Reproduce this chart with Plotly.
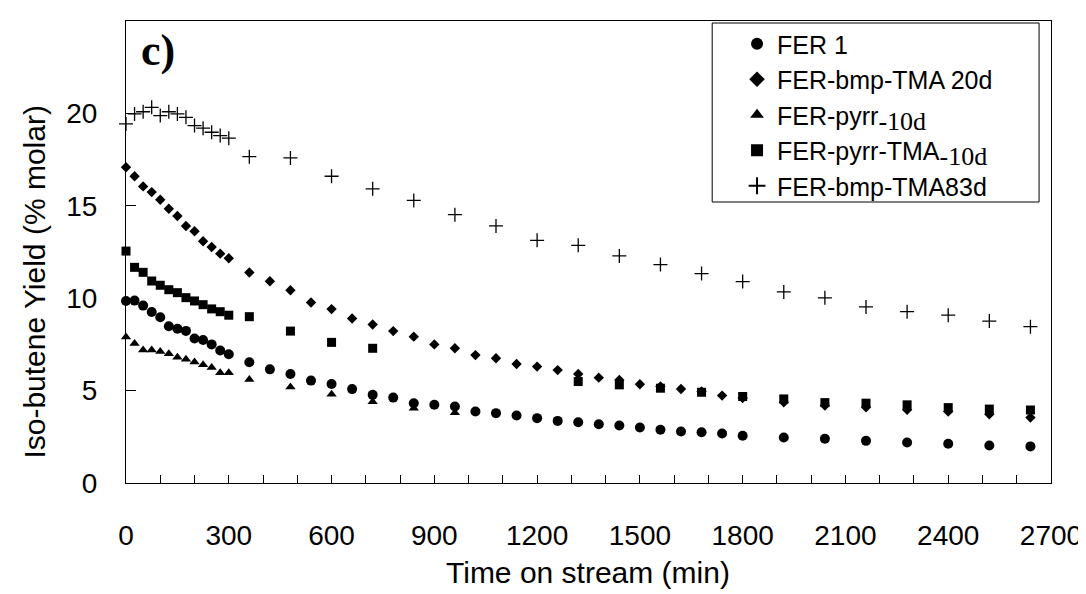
import plotly.graph_objects as go

# ---------------- data ----------------
fer1_t = [0, 25, 50, 75, 100, 125, 150, 175, 200, 225, 250, 275, 300,
          360, 420, 480, 540, 600, 660, 720, 780, 840, 900, 960, 1020, 1080, 1140,
          1200, 1260, 1320, 1380, 1440, 1500, 1560, 1620, 1680, 1740, 1800,
          1920, 2040, 2160, 2280, 2400, 2520, 2640]
fer1_y = [9.85, 9.87, 9.6, 9.25, 8.97, 8.48, 8.35, 8.23, 7.82, 7.74, 7.5, 7.17, 6.97,
          6.53, 6.15, 5.9, 5.54, 5.36, 5.08, 4.77, 4.62, 4.32, 4.23, 4.14, 3.87, 3.78, 3.65,
          3.51, 3.36, 3.29, 3.18, 3.11, 3.0, 2.88, 2.79, 2.75, 2.68, 2.56,
          2.46, 2.39, 2.28, 2.19, 2.12, 2.03, 1.98]

bmp20_t = [0, 25, 50, 75, 100, 125, 150, 175, 200, 225, 250, 275, 300,
           360, 420, 480, 540, 600, 660, 720, 780, 840, 900, 960, 1020, 1080, 1140,
           1200, 1260, 1320, 1380, 1440, 1500, 1560, 1620, 1680, 1740, 1800,
           1920, 2040, 2160, 2280, 2400, 2520, 2640]
bmp20_y = [17.09, 16.6, 16.05, 15.74, 15.33, 14.84, 14.45, 13.91, 13.62, 13.08, 12.77, 12.41, 12.16,
           11.39, 10.92, 10.43, 9.77, 9.41, 8.9, 8.58, 8.22, 7.92, 7.5, 7.29, 6.92, 6.75, 6.44,
           6.3, 6.11, 5.9, 5.7, 5.58, 5.34, 5.22, 5.09, 4.95, 4.73, 4.6,
           4.37, 4.19, 4.1, 3.96, 3.87, 3.72, 3.54]

pyrr10_t = [0, 25, 50, 75, 100, 125, 150, 175, 200, 225, 250, 275, 300,
            360, 480, 600, 720, 840, 960]
pyrr10_y = [7.9, 7.55, 7.2, 7.2, 7.12, 7.0, 6.8, 6.7, 6.55, 6.4, 6.25, 5.97, 5.97,
            5.6, 5.2, 4.8, 4.4, 4.05, 3.8]

pyrrtma10_t = [0, 25, 50, 75, 100, 125, 150, 175, 200, 225, 250, 275, 300,
               360, 480, 600, 720, 1320, 1440, 1560, 1680, 1800,
               1920, 2040, 2160, 2280, 2400, 2520, 2640]
pyrrtma10_y = [12.55, 11.67, 11.4, 10.93, 10.7, 10.46, 10.3, 10.03, 9.85, 9.65, 9.42, 9.27, 9.08,
               9.0, 8.22, 7.61, 7.29, 5.49, 5.31, 5.13, 4.91, 4.68,
               4.55, 4.35, 4.32, 4.23, 4.08, 4.0, 3.95]

bmp83_t = [0, 25, 50, 75, 100, 125, 150, 175, 200, 225, 250, 275, 300,
           360, 480, 600, 720, 840, 960, 1080, 1200, 1320, 1440, 1560, 1680, 1800,
           1920, 2040, 2160, 2280, 2400, 2520, 2640]
bmp83_y = [19.43, 19.97, 20.09, 20.33, 19.88, 20.09, 19.97, 19.79, 19.34, 19.2, 18.98, 18.8, 18.66,
           17.66, 17.59, 16.6, 15.92, 15.29, 14.52, 13.91, 13.13, 12.86, 12.29, 11.82, 11.33, 10.9,
           10.34, 10.02, 9.53, 9.27, 9.08, 8.76, 8.46]

x_ticks = [0, 300, 600, 900, 1200, 1500, 1800, 2100, 2400, 2700]
y_ticks = [0, 5, 10, 15, 20]

SANS = "Liberation Sans, Arial, sans-serif"
SERIF_SPAN = "font-family:Liberation Serif;font-size:26px"

names = [
    "FER 1",
    "FER-bmp-TMA 20d",
    "FER-pyrr<sub><span style='" + SERIF_SPAN + "'>-10d</span></sub>",
    "FER-pyrr-TMA<sub><span style='" + SERIF_SPAN + "'>-10d</span></sub>",
    "FER-bmp-TMA83d",
]

fig = go.Figure()
fig.add_trace(go.Scatter(x=fer1_t, y=fer1_y, mode="markers", name=names[0], cliponaxis=False,
                         marker=dict(symbol="circle", size=10, color="black")))
fig.add_trace(go.Scatter(x=bmp20_t, y=bmp20_y, mode="markers", name=names[1], cliponaxis=False,
                         marker=dict(symbol="diamond", size=8, color="black")))
fig.add_trace(go.Scatter(x=pyrr10_t, y=pyrr10_y, mode="markers", name=names[2], cliponaxis=False,
                         marker=dict(symbol="triangle-up", size=9, color="black")))
fig.add_trace(go.Scatter(x=pyrrtma10_t, y=pyrrtma10_y, mode="markers", name=names[3], cliponaxis=False,
                         marker=dict(symbol="square", size=9, color="black")))
fig.add_trace(go.Scatter(x=bmp83_t, y=bmp83_y, mode="markers", name=names[4], cliponaxis=False,
                         marker=dict(symbol="cross-thin", size=10, color="black",
                                     line=dict(width=1.3, color="black"))))

L, R, T, B = 118, 37, 13, 119
W, H = 1086, 594
pw, ph = W - L - R, H - T - B


def px(xp):
    return (xp - L) / pw


def py(yp):
    return 1 - (yp - T) / ph


fig.update_layout(
    width=W, height=H,
    margin=dict(l=L, r=R, t=T, b=B),
    paper_bgcolor="white", plot_bgcolor="white",
    font=dict(family=SANS, size=28, color="black"),
    showlegend=True,
    legend=dict(x=px(733), y=py(13), xanchor="left", yanchor="top",
                bgcolor="rgba(0,0,0,0)", borderwidth=0,
                font=dict(family=SANS, size=25, color="black"),
                itemsizing="constant"),
    xaxis=dict(range=[0, 2700], tickvals=x_ticks, ticks="inside", ticklen=8,
               tickcolor="black", tickwidth=1, showline=True, linecolor="black",
               linewidth=1, mirror=True, showgrid=False, zeroline=False,
               ticklabelstandoff=27, tickfont=dict(size=28),
               minor=dict(dtick=100, tick0=0, ticks="inside", ticklen=8,
                          tickcolor="black", tickwidth=1, showgrid=False)),
    yaxis=dict(range=[0, 25], tickvals=y_ticks, ticks="inside", ticklen=10,
               tickcolor="black", tickwidth=1, showline=True, linecolor="black",
               linewidth=1, mirror=True, showgrid=False, zeroline=False,
               ticklabelstandoff=22, tickfont=dict(size=28)),
    shapes=[dict(type="rect", xref="paper", yref="paper",
                 x0=px(708), x1=px(1037), y0=py(194), y1=py(15),
                 line=dict(color="black", width=1), fillcolor="rgba(0,0,0,0)")],
    annotations=[
        dict(text="<b>c)</b>", xref="paper", yref="paper", x=px(131), y=py(42),
             xanchor="left", yanchor="middle", showarrow=False,
             font=dict(family="Liberation Serif, Times New Roman, serif", size=44, color="black")),
        dict(text="Iso-butene Yield (% molar)", xref="paper", yref="paper",
             x=px(25), y=py(274), xanchor="center", yanchor="middle", textangle=-90,
             showarrow=False, font=dict(family=SANS, size=30, color="black")),
        dict(text="Time on stream (min)", xref="paper", yref="paper",
             x=px(583), y=py(564), xanchor="center", yanchor="middle",
             showarrow=False, font=dict(family=SANS, size=30, color="black")),
    ],
)

fig.write_html("out.html")
